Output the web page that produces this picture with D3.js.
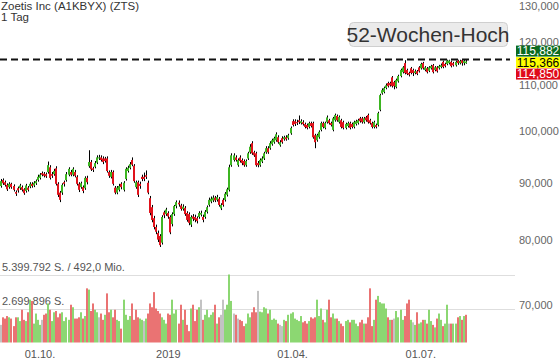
<!DOCTYPE html>
<html>
<head>
<meta charset="utf-8">
<script src="https://cdn.jsdelivr.net/npm/d3@7"></script>
<style>
  body { margin: 0; background: #fff; }
  svg { display: block; font-family: "Liberation Sans", Arial, sans-serif; }
</style>
</head>
<body>
<script>
// daily candles [open, high, low, close], Sep 2018 - Aug 2019
var ohlc = [
  [89.4,90.7,89.1,90.3],[90.5,90.8,89.6,89.9],[90.1,90.4,89.3,89.6],[89.6,89.9,88.5,88.8],[89.2,90.1,88.9,89.8],[89.8,90.0,88.9,89.2],[89.4,89.7,88.4,88.7],[88.3,88.6,87.6,88.0],[89.0,89.3,88.2,88.6],[89.0,89.8,88.7,89.5],
  [89.2,89.5,88.4,88.7],[88.8,89.0,87.8,88.1],[88.5,89.8,88.2,89.5],[89.1,89.4,88.4,88.7],[89.3,90.1,89.0,89.8],[89.8,90.1,89.1,89.4],[89.5,90.3,89.2,90.0],[89.9,90.6,89.6,90.3],[90.5,91.5,90.2,91.1],[90.9,91.8,90.6,91.5],
  [91.8,92.1,91.2,91.5],[91.7,92.0,91.0,91.3],[91.6,91.9,90.9,91.2],[92.0,94.0,91.7,93.3],[92.9,93.3,90.6,90.9],[91.6,92.0,90.9,91.3],[91.6,92.6,91.3,92.2],[92.7,93.1,89.5,89.8],[89.8,90.1,87.4,87.8],[88.2,88.5,86.5,86.9],
  [88.2,89.9,87.8,89.6],[90.1,90.4,89.3,89.8],[90.5,92.0,90.2,91.6],[91.5,92.9,91.2,92.6],[92.0,92.4,91.2,91.5],[91.5,92.9,91.2,92.6],[92.0,92.4,91.0,91.3],[91.1,91.4,89.5,89.8],[89.8,90.1,88.3,88.7],[89.2,90.2,88.9,89.9],
  [89.2,89.5,88.1,88.5],[89.0,91.2,88.7,90.9],[90.9,91.3,89.7,90.1],[93.1,96.2,92.8,93.9],[93.9,94.3,92.2,92.5],[92.7,93.0,92.0,92.4],[93.0,94.1,92.7,93.7],[93.8,95.2,93.5,94.8],[94.6,95.3,94.3,94.8],[94.8,95.2,94.0,94.3],
  [94.6,95.0,93.5,93.9],[94.6,94.9,93.8,94.1],[94.6,95.0,91.9,92.2],[92.0,92.3,90.9,91.3],[91.1,92.4,90.8,92.0],[92.0,92.3,89.5,89.8],[89.1,89.4,87.9,88.2],[88.2,89.4,87.9,89.1],[88.7,89.8,88.4,89.4],[89.8,90.1,88.8,89.2],
  [88.7,90.3,88.4,90.0],[90.7,92.9,90.4,92.6],[92.2,93.2,91.9,92.8],[92.8,93.9,92.5,93.5],[94.3,94.8,93.1,93.4],[93.2,93.5,90.0,90.3],[89.2,90.4,88.9,90.1],[90.1,90.4,87.4,87.8],[89.8,90.2,88.9,89.4],[91.1,91.5,90.3,90.7],
  [91.1,91.9,90.3,90.7],[91.4,92.3,90.7,91.1],[90.0,90.4,87.9,88.2],[87.2,87.6,84.2,84.6],[85.6,86.0,83.0,83.4],[83.7,84.1,81.8,82.2],[82.2,82.6,81.0,81.4],[81.2,81.6,79.7,80.1],[80.7,81.0,78.9,79.2],[79.6,84.2,79.3,83.9],
  [84.7,85.0,83.7,84.2],[84.4,85.5,84.1,85.2],[84.6,84.9,83.6,84.0],[83.9,84.2,81.0,81.3],[82.7,84.7,82.3,84.4],[84.4,86.0,84.1,85.8],[85.8,86.8,85.4,86.5],[86.4,86.8,85.7,86.1],[85.9,86.2,85.0,85.3],[85.3,86.1,85.0,85.7],
  [85.5,85.8,84.1,84.4],[84.6,84.9,83.1,83.4],[84.4,84.7,82.5,82.9],[82.6,84.2,82.2,83.9],[84.0,84.4,83.2,83.6],[83.9,84.3,83.0,83.4],[83.7,84.0,82.8,83.2],[83.9,84.9,83.6,84.6],[84.3,85.0,84.0,84.6],[83.9,84.3,83.0,83.4],
  [83.9,85.1,83.6,84.8],[84.8,85.9,84.5,85.6],[86.0,87.3,85.7,86.9],[86.6,87.5,86.3,87.1],[86.8,87.7,86.5,87.3],[87.3,87.6,86.5,86.8],[86.9,87.8,86.6,87.4],[87.1,87.4,85.7,86.0],[85.4,86.3,85.1,86.0],[86.9,87.2,85.7,86.0],
  [86.9,88.3,86.6,88.0],[87.8,89.1,87.5,88.8],[88.7,93.4,88.4,92.9],[93.3,95.6,93.0,95.2],[94.3,95.6,94.0,95.2],[94.8,95.2,94.0,94.3],[93.3,94.6,93.0,94.3],[94.8,95.2,93.8,94.1],[94.3,94.6,93.3,93.7],[94.1,94.4,93.0,93.3],
  [93.3,94.4,93.0,94.1],[94.6,95.9,94.3,95.6],[95.8,97.4,95.5,96.9],[97.6,98.0,95.3,95.6],[95.8,96.1,94.9,95.2],[95.6,95.9,93.0,93.3],[93.7,94.1,92.9,93.3],[93.3,94.6,93.0,94.3],[94.0,95.0,93.7,94.6],[94.6,95.9,94.3,95.6],
  [95.8,97.0,95.5,96.6],[96.6,97.0,95.5,95.8],[96.6,98.0,96.3,97.6],[97.4,98.5,97.1,98.2],[97.8,98.9,97.5,98.6],[98.2,99.8,97.9,99.4],[98.8,99.2,97.5,97.8],[97.2,98.2,96.9,97.8],[98.6,99.0,97.5,97.8],[98.4,99.1,98.1,98.8],
  [98.8,99.2,98.1,98.4],[98.6,99.5,98.3,99.2],[99.6,101.0,99.3,100.7],[102.1,102.5,101.0,101.3],[102.1,102.5,101.1,101.5],[101.9,102.4,101.3,101.7],[102.3,103.3,101.5,101.9],[101.7,102.5,101.4,102.1],[101.9,102.3,101.2,101.5],[101.5,101.8,100.6,100.9],
  [101.3,101.6,100.4,100.7],[100.9,102.0,100.6,101.7],[101.7,102.0,100.8,101.1],[101.7,102.0,98.5,98.8],[99.2,99.5,96.6,97.8],[98.2,99.5,97.9,99.2],[98.8,100.2,98.5,99.9],[100.3,102.0,100.0,101.7],[101.7,102.0,100.6,100.9],[100.7,102.0,100.4,101.7],
  [101.9,103.3,101.6,102.9],[102.3,102.6,101.4,101.7],[101.7,102.0,101.0,101.3],[100.3,103.0,100.0,102.7],[102.3,103.7,102.0,103.4],[103.2,103.5,102.0,102.3],[101.9,103.3,101.6,103.0],[102.3,102.6,100.6,100.9],[101.9,102.2,100.4,100.7],[100.7,101.8,100.4,101.5],
  [101.1,102.0,100.8,101.7],[101.7,102.0,100.4,100.7],[101.5,101.8,100.6,100.9],[100.9,102.2,100.6,101.9],[101.5,102.4,101.2,102.1],[101.7,102.6,101.4,102.3],[102.7,103.0,101.8,102.1],[102.7,103.0,101.6,101.9],[101.9,103.0,101.6,102.7],[102.9,103.2,102.0,102.3],
  [103.4,103.7,101.6,101.9],[102.3,102.6,101.4,101.7],[101.7,102.0,100.6,100.9],[100.9,102.2,100.6,101.9],[101.3,101.6,100.6,100.9],[101.3,104.1,101.0,103.8],[104.5,108.0,104.2,107.7],[108.1,109.2,107.8,108.8],[108.4,109.6,108.1,109.3],[109.3,110.3,109.0,109.9],
  [110.4,110.7,109.4,109.7],[110.4,110.7,109.6,109.9],[111.7,112.0,109.4,109.7],[110.6,110.9,109.0,109.7],[109.5,111.4,109.2,111.1],[110.8,112.3,110.5,112.0],[112.0,113.7,111.7,113.4],[112.9,114.3,112.6,114.0],[115.0,115.7,112.4,112.7],[113.4,113.7,112.2,112.5],
  [112.7,113.0,111.9,112.3],[113.8,114.1,112.4,112.7],[113.4,113.7,112.0,112.7],[112.7,113.5,112.4,113.1],[113.1,113.4,112.2,112.5],[114.0,114.3,112.8,113.1],[113.8,115.1,113.5,114.8],[115.0,115.3,113.5,113.8],[113.4,114.3,113.1,114.0],[113.8,114.1,112.6,112.9],
  [113.2,114.3,112.9,114.0],[113.8,114.6,113.5,114.3],[114.5,114.8,112.6,112.9],[113.4,114.3,113.1,114.0],[114.0,114.3,112.8,113.1],[113.8,114.6,113.5,114.3],[114.1,114.9,113.8,114.5],[115.3,115.6,113.8,114.1],[114.8,115.1,114.0,114.3],[114.8,115.8,114.5,115.6],
  [115.0,115.8,114.7,115.6],[115.3,115.6,114.0,114.3],[115.0,115.3,114.2,114.5],[114.5,115.6,114.2,115.3],[115.6,115.8,114.6,115.0],[115.0,115.8,114.7,115.5],[115.7,115.85,114.4,115.0],[115.0,115.8,114.5,115.5],[115.0,115.882,114.85,115.366]
];

// daily volume, million shares
var volume = [
  1.4,2.0,1.9,2.1,2.0,1.9,1.3,2.0,2.0,1.7,
  2.6,1.8,1.7,2.4,3.4,3.3,1.5,2.3,1.8,1.4,
  1.8,2.2,2.3,3.1,2.6,1.7,2.4,2.5,2.0,2.3,
  2.4,1.7,2.0,1.8,3.0,2.8,1.9,1.9,2.0,2.4,
  1.9,2.1,4.3,4.2,2.5,3.1,2.6,2.4,2.0,2.3,
  1.8,2.2,3.9,2.4,2.6,2.0,2.6,1.8,1.7,1.1,
  3.4,2.2,1.8,2.1,3.1,1.8,2.6,2.0,1.9,1.8,
  1.7,1.9,2.3,3.1,2.8,4.0,2.7,2.5,2.3,2.0,
  1.8,1.5,2.3,2.2,3.4,2.3,2.6,1.5,3.0,1.8,
  2.6,1.4,0.9,2.7,3.0,1.7,2.6,2.8,3.4,1.8,
  2.2,2.6,2.0,2.2,2.4,3.0,1.5,2.0,2.2,3.4,
  2.6,3.0,5.399792,3.3,2.3,2.2,1.9,1.8,1.7,1.3,
  1.5,2.3,2.0,2.4,2.8,2.4,4.1,2.45,2.4,2.8,
  2.7,2.3,2.6,1.8,1.9,1.8,1.5,1.4,1.3,1.8,
  1.7,2.2,2.3,2.4,1.9,1.8,1.7,2.1,1.6,1.7,
  1.5,1.7,2.0,1.9,2.0,3.4,2.1,2.7,1.8,1.6,
  2.6,3.4,2.0,2.3,1.9,1.9,1.7,1.5,1.3,1.7,
  1.8,1.6,1.8,1.8,1.5,1.3,1.6,1.8,1.5,1.5,
  2.0,4.3,1.3,1.8,3.4,3.7,3.2,3.1,3.1,2.7,
  2.0,1.8,1.8,1.9,2.5,2.0,2.6,1.8,2.1,3.1,
  3.4,1.8,1.6,1.4,2.4,1.5,1.6,1.8,1.8,1.5,
  2.6,1.7,1.4,1.2,1.9,2.3,1.8,1.3,1.5,3.0,
  1.5,1.5,1.5,1.5,2.0,2.1,1.8,2.1,2.2
];

var priceTicks = [70, 80, 90, 100, 110, 120, 130];
var xTickIdx = [19, 82, 143, 206];
var xTickLabels = ['01.10.', '2019', '01.04.', '01.07.'];
var yearHigh = 115.882;
var volMaxShares = 5399792;
var volMaxTurnover = 492.0;

var width = 560, height = 363;
var de = d3.formatLocale({ decimal: ',', thousands: '.', grouping: [3], currency: ['', ''] });
var fmtPrice = de.format('.3f');
var fmtShares = de.format(',d');
var fmtMio = de.format('.1f');

var svg = d3.select('body').append('svg')
  .attr('width', width)
  .attr('height', height);

var x = d3.scaleLinear().domain([0, ohlc.length - 1]).range([1.3, 465.7]);
var y = d3.scaleLog().domain([70, 130]).range([305.4, 3.3]);
var yv = d3.scaleLinear().domain([0, volMaxShares / 1e6]).range([342.5, 274.5]);

function left(i) { return Math.round(x(i)) - 1; }

// volume grid + labels
var volGrid = svg.append('g');
[volMaxShares, volMaxShares / 2].forEach(function(v) {
  var yy = Math.round(yv(v / 1e6)) + 0.5;
  volGrid.append('line')
    .attr('x1', 0).attr('x2', 515)
    .attr('y1', yy).attr('y2', yy)
    .attr('stroke', '#dedede');
});
volGrid.append('text')
  .attr('x', 2).attr('y', 271)
  .attr('font-size', 11).attr('fill', '#555')
  .text(fmtShares(volMaxShares) + ' S. / ' + fmtMio(volMaxTurnover) + ' Mio.');
volGrid.append('text')
  .attr('x', 2).attr('y', 305)
  .attr('font-size', 11).attr('fill', '#555')
  .text(fmtShares(volMaxShares / 2) + ' S.');

// volume bars, coloured against previous close
svg.append('g').selectAll('rect').data(volume).enter().append('rect')
  .attr('x', function(d, i) { return left(i); })
  .attr('width', 2)
  .attr('y', function(d) { return yv(d); })
  .attr('height', function(d) { return yv(0) - yv(d); })
  .attr('fill-opacity', 0.9)
  .attr('fill', function(d, i) {
    if (i === 0) return '#bdbdbd';
    var c = ohlc[i][3], p = ohlc[i - 1][3];
    return c > p ? '#7fd363' : (c < p ? '#e86464' : '#bdbdbd');
  });

// candles
var candle = svg.append('g').selectAll('g').data(ohlc).enter().append('g');
candle.append('line')
  .attr('x1', function(d, i) { return left(i) + 1.5; })
  .attr('x2', function(d, i) { return left(i) + 1.5; })
  .attr('y1', function(d) { return y(d[1]); })
  .attr('y2', function(d) { return y(d[2]); })
  .attr('stroke', '#000')
  .attr('stroke-width', 1);
candle.append('rect')
  .attr('x', function(d, i) { return left(i); })
  .attr('width', 2)
  .attr('y', function(d) { return y(Math.max(d[0], d[3])); })
  .attr('height', function(d) { return Math.max(1, y(Math.min(d[0], d[3])) - y(Math.max(d[0], d[3]))); })
  .attr('fill', function(d) { return d[3] >= d[0] ? '#3cb521' : '#e0121b'; });

// price axis labels
svg.append('g').selectAll('text').data(priceTicks).enter().append('text')
  .attr('x', 519)
  .attr('y', function(d) { return Math.max(6, y(d)); })
  .attr('dy', '0.35em')
  .attr('font-size', 11)
  .attr('fill', '#666')
  .text(fmtPrice);

// time axis labels
svg.append('g').selectAll('text').data(xTickIdx).enter().append('text')
  .attr('x', function(d) { return x(d); })
  .attr('y', 358)
  .attr('text-anchor', 'middle')
  .attr('font-size', 11)
  .attr('fill', '#555')
  .text(function(d, i) { return xTickLabels[i]; });

// 52 week high
var yh = y(yearHigh);
svg.append('line')
  .attr('x1', 0).attr('x2', 510)
  .attr('y1', yh).attr('y2', yh)
  .attr('stroke', '#111')
  .attr('stroke-width', 2)
  .attr('stroke-dasharray', '7,4');

svg.append('rect')
  .attr('x', 349.5).attr('y', 22.5)
  .attr('width', 158).attr('height', 24)
  .attr('rx', 4)
  .attr('fill', '#ebebeb')
  .attr('stroke', '#cfcfcf');
svg.append('text')
  .attr('x', 428).attr('y', 42)
  .attr('text-anchor', 'middle')
  .attr('font-size', 21)
  .attr('fill', '#333')
  .text('52-Wochen-Hoch');

// last day high / last / low boxes
var last = ohlc[ohlc.length - 1];
var yl = y(last[3]) + 1;
var boxes = [
  { v: last[1], off: -11.5, fill: '#0b6b1f', color: '#fff' },
  { v: last[3], off: 0, fill: '#ffff00', color: '#000' },
  { v: last[2], off: 11.5, fill: '#e00b1a', color: '#fff' }
];
var box = svg.append('g').selectAll('g').data(boxes).enter().append('g')
  .attr('transform', function(d) { return 'translate(516,' + (yl + d.off - 5.5) + ')'; });
box.append('rect')
  .attr('width', 44).attr('height', 11)
  .attr('fill', function(d) { return d.fill; });
box.append('text')
  .attr('x', 22).attr('y', 9.5)
  .attr('text-anchor', 'middle')
  .attr('font-size', 12)
  .attr('fill', function(d) { return d.color; })
  .text(function(d) { return fmtPrice(d.v); });

// title
svg.append('text')
  .attr('x', 1).attr('y', 10)
  .attr('font-size', 11.5).attr('fill', '#333')
  .text('Zoetis Inc (A1KBYX) (ZTS)');
svg.append('text')
  .attr('x', 1).attr('y', 21)
  .attr('font-size', 11.5).attr('fill', '#333')
  .text('1 Tag');
</script>
</body>
</html>
